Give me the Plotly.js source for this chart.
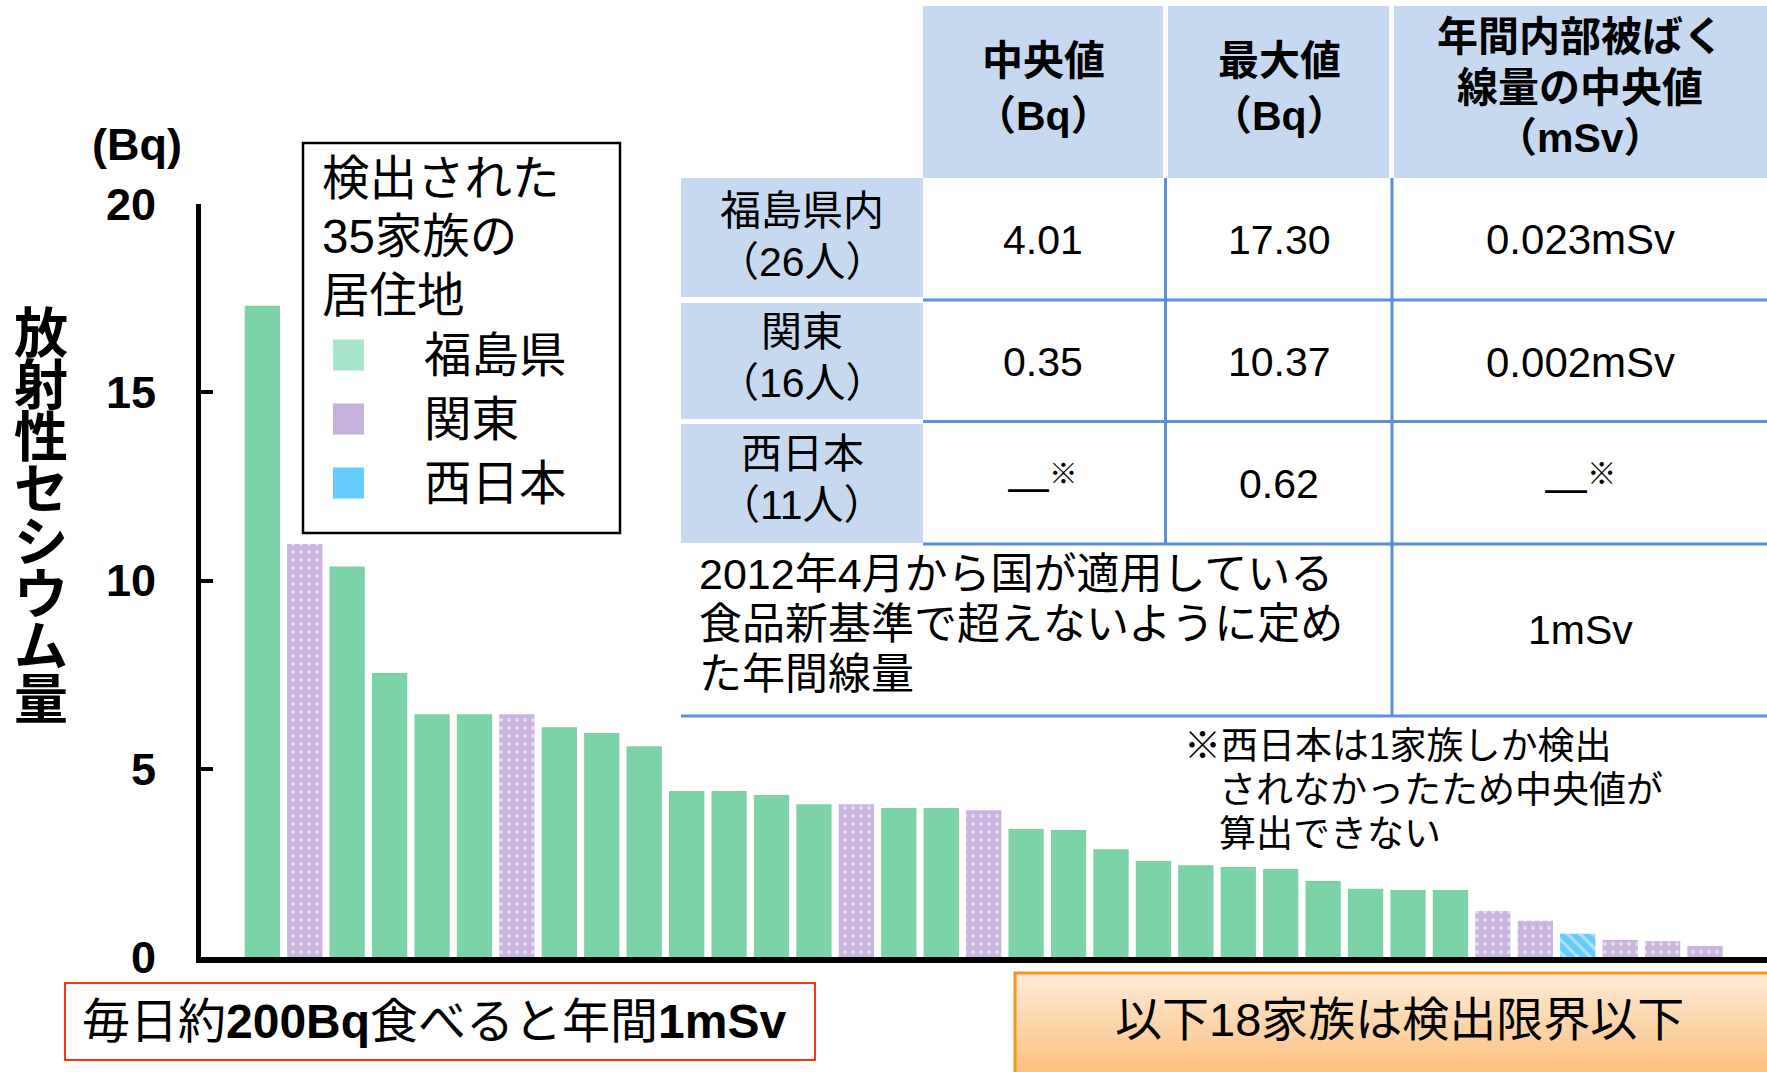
<!DOCTYPE html>
<html><head><meta charset="utf-8">
<script src="https://cdn.plot.ly/plotly-3.0.1.min.js"></script>
<style>html,body{margin:0;padding:0;background:#fff;overflow:hidden}</style>
</head><body><div id="chart" style="width:1767px;height:1072px"></div>
<script>
// ---------------- DATA ----------------
const familyRank = [1,2,3,4,5,6,7,8,9,10,11,12,13,14,15,16,17,18,19,20,21,22,23,24,25,26,27,28,29,30,31,32,33,34,35];
const cesiumBq = [17.30,10.97,10.37,7.54,6.45,6.45,6.45,6.10,5.95,5.60,4.41,4.41,4.30,4.06,4.06,3.96,3.96,3.90,3.40,3.37,2.86,2.55,2.44,2.39,2.34,2.02,1.81,1.78,1.78,1.22,0.96,0.62,0.45,0.42,0.29];
const familyRegion = ['福島県','関東','福島県','福島県','福島県','福島県','関東','福島県','福島県','福島県',
                      '福島県','福島県','福島県','福島県','関東','福島県','福島県','関東','福島県','福島県',
                      '福島県','福島県','福島県','福島県','福島県','福島県','福島県','福島県','福島県','関東',
                      '関東','西日本','関東','関東','関東'];
const yTicks = [0,5,10,15,20];
const yUnit = '(Bq)';
const yAxisTitle = '放射性セシウム量';
const legendTitleLines = ['検出された','35家族の','居住地'];
const legendRegions = ['福島県','関東','西日本'];

const tableHeaders = [['中央値','（Bq）'],['最大値','（Bq）'],['年間内部被ばく','線量の中央値','（mSv）']];
const tableRowNames = ['福島県内','関東','西日本'];
const tableRowPeople = ['（26人）','（16人）','（11人）'];
const tableMedianBq = ['4.01','0.35','—※'];
const tableMaxBq = ['17.30','10.37','0.62'];
const tableDoseMedian = ['0.023mSv','0.002mSv','—※'];
const limitTextLines = ['2012年4月から国が適用している','食品新基準で超えないように定め','た年間線量'];
const limitValue = '1mSv';
const footnoteLines = ['※西日本は1家族しか検出','されなかったため中央値が','算出できない'];
const redBoxText = '毎日約<b>200Bq</b>食べると年間<b>1mSv</b>';
const orangeBoxText = '以下18家族は検出限界以下';

// ---------------- STYLE ----------------
const regionStyle = {
  '福島県': {color:'#7bd3a7', shape:'',   fg:'#7bd3a7', size:8, solidity:0.2,  legend:'#a8e4c9'},
  '関東':   {color:'#c8b4dd', shape:'.',  fg:'#e4dbf0', size:8, solidity:0.2,  legend:'#c5b1dc'},
  '西日本': {color:'#66ccff', shape:'\\', fg:'#ade2ff', size:9, solidity:0.35, legend:'#66ccff'}
};
const FONT = '"Liberation Sans", Arial, "Noto Sans CJK JP", sans-serif';
const CJK = '"Noto Sans CJK JP", "Liberation Sans", sans-serif';

const L = 201, R = 1767, T = 204, B = 957;
const W = R - L, H = B - T;
const X = p => (p - L) / W;
const Y = p => (B - p) / H;

const shapes = [];
const annotations = [];
function rect(x0, y0, x1, y1, fill, line) {
  shapes.push({type:'rect', xref:'paper', yref:'paper', x0:X(x0), x1:X(x1), y0:Y(y1), y1:Y(y0),
    fillcolor:fill, line: line || {width:0}, layer:'above'});
}
function seg(x0, y0, x1, y1, color, w) {
  shapes.push({type:'line', xref:'paper', yref:'paper', x0:X(x0), x1:X(x1), y0:Y(y0), y1:Y(y1),
    line:{color:color, width:w}, layer:'above'});
}
function txt(x, y, s, size, opts) {
  opts = opts || {};
  annotations.push({xref:'paper', yref:'paper', x:X(x), y:Y(y), text:s, showarrow:false,
    xanchor: opts.xanchor || 'center', yanchor:'middle',
    font:{family: opts.family || FONT, size:size, color:'#000'}});
}
function cellText(s) { return s.endsWith('※') ? s.slice(0, -1) + '<sup>※</sup>' : s; }

// ---------------- TABLE ----------------
const HB = '#c6d9f0', BL = '#5b8fd7';
const colX = [[923,1163],[1168,1389],[1394,1780]];
const colC = [1043, 1279, 1580];
colX.forEach(c => rect(c[0], 6, c[1], 178, HB));
const rowY = [[178,297],[303,419],[424,543]];
rowY.forEach(r => rect(681, r[0], 923, r[1], HB));
seg(923, 300, 1780, 300, BL, 3);
seg(923, 421.5, 1780, 421.5, BL, 3);
seg(923, 544, 1780, 544, BL, 3);
seg(681, 716, 1780, 716, BL, 3);
seg(1165.5, 178, 1165.5, 544, BL, 3);
seg(1392, 178, 1392, 716, BL, 3);

const hdrY = [[61.5,115.5],[61.5,115.5],[37.5,88,138]];
tableHeaders.forEach((lines, i) => lines.forEach((s, j) => txt(colC[i], hdrY[i][j], '<b>' + s + '</b>', 41)));
const nameY = [211, 332, 453.5], peopleY = [261.5, 383, 504.5], valY = [240, 362, 484];
tableRowNames.forEach((s, i) => {
  txt(802, nameY[i], s, 41);
  txt(802, peopleY[i], tableRowPeople[i], 41);
  txt(colC[0], valY[i], cellText(tableMedianBq[i]), 41);
  txt(colC[1], valY[i], cellText(tableMaxBq[i]), 41);
  txt(colC[2], valY[i], cellText(tableDoseMedian[i]), 42);
});
const limY = [573.5, 623.5, 673.5];
limitTextLines.forEach((s, i) => txt(697, limY[i], s, 43, {xanchor:'left'}));
txt(1580, 630, limitValue, 41);

// ---------------- FOOTNOTE ----------------
const fnX = [1182, 1217, 1217], fnY = [746, 790, 834];
footnoteLines.forEach((s, i) => txt(fnX[i], fnY[i], s, 37, {xanchor:'left'}));

// ---------------- LEGEND BOX ----------------
rect(303, 143, 620, 533, 'rgba(0,0,0,0)', {color:'#000', width:2.5});
const ltY = [178, 237, 295];
legendTitleLines.forEach((s, i) => txt(320, ltY[i], s, 47.5, {xanchor:'left'}));
const leY = [355, 419, 483];
legendRegions.forEach((r, i) => {
  rect(333, leY[i] - 15.5, 364, leY[i] + 15.5, regionStyle[r].legend);
  txt(422, leY[i], r, 47.5, {xanchor:'left'});
});

// ---------------- Y AXIS TEXT ----------------
txt(137, 144, '<b>' + yUnit + '</b>', 45);
Array.from(yAxisTitle).forEach((ch, i) => txt(41, 329 + i * 52.3, '<b>' + ch + '</b>', 54, {family:CJK}));

// ---------------- BOTTOM BOXES ----------------
rect(65, 983, 815, 1060, '#ffffff', {color:'#ff3311', width:2});
txt(434, 1022, redBoxText, 48);

const gTop = [254, 234, 214], gBot = [251, 192, 128];
const nStrip = 25, oy0 = 973, oy1 = 1075;
for (let k = 0; k < nStrip; k++) {
  const t = k / (nStrip - 1);
  const c = gTop.map((v, j) => Math.round(v + (gBot[j] - v) * t));
  const ya = oy0 + (oy1 - oy0) * k / nStrip, yb = oy0 + (oy1 - oy0) * (k + 1) / nStrip + 0.6;
  rect(1015, ya, 1780, yb, 'rgb(' + c.join(',') + ')');
}
rect(1015, 973, 1790, 1090, 'rgba(0,0,0,0)', {color:'#f7941d', width:3});
txt(1399, 1019, orangeBoxText, 47);

// ---------------- BARS (one trace per region) ----------------
const traces = legendRegions.map(r => {
  const idx = familyRegion.map((g, i) => g === r ? i : -1).filter(i => i >= 0);
  const st = regionStyle[r];
  const marker = {color: st.color, line:{width:0}};
  if (st.shape) {
    marker.pattern = {shape: st.shape, fgcolor: st.fg, fgopacity: 1, size: st.size,
                      solidity: st.solidity, fillmode:'overlay'};
  }
  return {type:'bar', name:r, x: idx.map(i => familyRank[i]), y: idx.map(i => cesiumBq[i]),
          width: 0.832, marker: marker, hoverinfo:'skip'};
});

const layout = {
  width:1767, height:1072,
  margin:{l:L, r:1767 - R, t:T, b:1072 - B, pad:0},
  paper_bgcolor:'#ffffff', plot_bgcolor:'#ffffff',
  showlegend:false,
  barmode:'overlay',
  xaxis:{range:[-0.445, 36.46], showline:true, linecolor:'#000', linewidth:6, showticklabels:false,
         ticks:'', showgrid:false, zeroline:false, fixedrange:true},
  yaxis:{range:[0,20], tickvals:yTicks, ticktext:yTicks.map(v => '<b>' + v + '</b>'), ticks:'inside', ticklen:12, tickwidth:4,
         tickcolor:'#000', showline:true, linecolor:'#000', linewidth:5, showgrid:false, zeroline:false,
         tickfont:{family:FONT, size:45, color:'#000'}, ticklabelstandoff:31, fixedrange:true},
  shapes:shapes, annotations:annotations
};
Plotly.newPlot('chart', traces, layout, {displayModeBar:false, staticPlot:true});
</script></body></html>
